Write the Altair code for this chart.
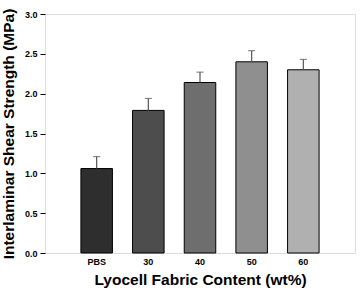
import altair as alt
import pandas as pd

categories = ["PBS", "30", "40", "50", "60"]
strength = [1.06, 1.79, 2.14, 2.40, 2.30]
errors = [0.15, 0.15, 0.13, 0.14, 0.13]
colors = ["#2e2e2e", "#4d4d4d", "#6e6e6e", "#8f8f8f", "#b0b0b0"]
yticks = [0.0, 0.5, 1.0, 1.5, 2.0, 2.5, 3.0]

df = pd.DataFrame({"cat": categories, "val": strength, "err": errors})
df["top"] = df["val"] + df["err"]

xaxis = alt.Axis(title="Lyocell Fabric Content (wt%)", labelAngle=0,
                 ticks=False, domain=False, labelFont="Liberation Sans",
                 labelFontWeight="bold", labelFontSize=9, labelColor="black",
                 labelPadding=4,
                 titleFont="Liberation Sans", titleFontSize=15.5,
                 titleFontWeight="bold", titleColor="black", titlePadding=6)
xscale = alt.Scale(paddingInner=0.39, paddingOuter=0.695)
yaxis = alt.Axis(title="Interlaminar Shear Strength (MPa)", values=yticks,
                 format=".1f", grid=False, domain=False, tickColor="black",
                 tickSize=5, labelOverlap=False, labelFont="Liberation Sans",
                 labelFontWeight="bold",
                 labelFontSize=9, labelColor="black", labelPadding=3,
                 titleFont="Liberation Sans", titleFontSize=15.5, titleFontWeight="bold",
                 titleColor="black", titleX=-29)
yscale = alt.Scale(domain=[0, 3])

bars = alt.Chart(df).mark_bar(stroke="black", strokeWidth=1).encode(
    x=alt.X("cat:N", sort=categories, scale=xscale, axis=xaxis),
    y=alt.Y("val:Q", scale=yscale, axis=yaxis),
    color=alt.Color("cat:N", sort=categories,
                    scale=alt.Scale(domain=categories, range=colors), legend=None),
)

rules = alt.Chart(df).mark_rule(color="#555555", strokeWidth=1.2).encode(
    x=alt.X("cat:N", sort=categories, scale=xscale, axis=xaxis),
    y=alt.Y("val:Q", scale=yscale, axis=yaxis),
    y2="top:Q",
)
caps = alt.Chart(df).mark_tick(color="#555555", size=7, thickness=1.2, orient="horizontal").encode(
    x=alt.X("cat:N", sort=categories, scale=xscale, axis=xaxis),
    y=alt.Y("top:Q", scale=yscale, axis=yaxis),
)

chart = alt.layer(bars, rules, caps).properties(
    width=310, height=239,
    autosize=alt.AutoSizeParams(type="none"),
    padding={"left": 45, "top": 14, "right": 5, "bottom": 37},
).configure_view(stroke="black", strokeWidth=1.2).configure(background="white")

chart.save("out.html", embed_options={"renderer": "svg", "actions": False})
